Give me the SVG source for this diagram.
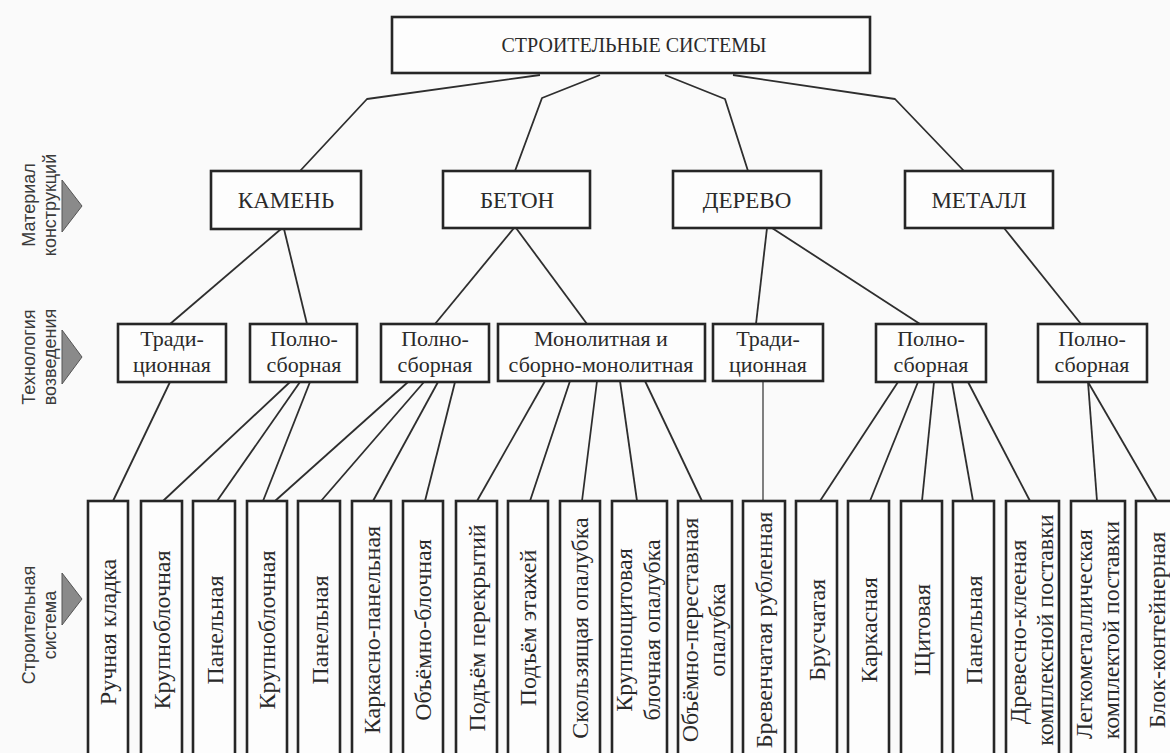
<svg xmlns="http://www.w3.org/2000/svg" width="1170" height="753" viewBox="0 0 1170 753">
<defs>
<style>
.bx{fill:#fdfdfd;stroke:#262626;stroke-width:2.6}
.t{font-family:"Liberation Serif","Times New Roman",serif;fill:#2a2a2a;text-anchor:middle}
.top{font-size:20px}
.l2{font-size:23px}
.l3{font-size:22px}
.b{font-size:24px}
.lab{font-family:"Liberation Sans",Arial,sans-serif;fill:#3a3a3a;text-anchor:middle;font-size:18px}
.tri{fill:#8a8a8a;stroke:#555;stroke-width:1}
.cn{fill:none;stroke:#2e2e2e;stroke-width:1.8;stroke-linejoin:round}
</style>
</defs>
<rect width="1170" height="753" fill="#fafafa"/>

<g id="labels">
<g id="lab-material">
<text class="lab" transform="translate(35,205) rotate(-90)">Материал</text>
<text class="lab" transform="translate(56,205) rotate(-90)">конструкций</text>
<polygon class="tri" points="62,180 82,206 62,232"/>
</g>
<g id="lab-tech">
<text class="lab" transform="translate(35,357) rotate(-90)">Технология</text>
<text class="lab" transform="translate(56,357) rotate(-90)">возведения</text>
<polygon class="tri" points="62,330 82,357 62,384"/>
</g>
<g id="lab-system">
<text class="lab" transform="translate(35,625) rotate(-90)">Строительная</text>
<text class="lab" transform="translate(56,625) rotate(-90)">система</text>
<polygon class="tri" points="62,573 82,599 62,625"/>
</g>
</g>

<g id="connectors">
<polyline class="cn" points="540,75 367,99 300,171"/>
<polyline class="cn" points="600,75 542,98 515,171"/>
<polyline class="cn" points="665,75 725,99 748,171"/>
<polyline class="cn" points="733,75 895,99 964,171"/>
<line class="cn" x1="281" y1="229" x2="170" y2="324"/>
<line class="cn" x1="284" y1="229" x2="307" y2="324"/>
<line class="cn" x1="514" y1="228" x2="435" y2="324"/>
<line class="cn" x1="516" y1="228" x2="587" y2="324"/>
<line class="cn" x1="767" y1="228" x2="756" y2="324"/>
<line class="cn" x1="772" y1="228" x2="920" y2="324"/>
<line class="cn" x1="1004" y1="228" x2="1081" y2="324"/>
<line class="cn" x1="170" y1="382" x2="113" y2="501"/>
<line class="cn" x1="290" y1="382" x2="163" y2="501"/>
<line class="cn" x1="300" y1="382" x2="217" y2="501"/>
<line class="cn" x1="310" y1="382" x2="263" y2="501"/>
<line class="cn" x1="408" y1="382" x2="275" y2="501"/>
<line class="cn" x1="424" y1="382" x2="321" y2="501"/>
<line class="cn" x1="438" y1="382" x2="373" y2="501"/>
<line class="cn" x1="455" y1="382" x2="425" y2="501"/>
<line class="cn" x1="545" y1="381" x2="477" y2="501"/>
<line class="cn" x1="570" y1="381" x2="530" y2="501"/>
<line class="cn" x1="597" y1="381" x2="582" y2="501"/>
<line class="cn" x1="620" y1="381" x2="637" y2="501"/>
<line class="cn" x1="645" y1="381" x2="702" y2="501"/>
<line class="cn" x1="763" y1="381" x2="763" y2="501" style="stroke-width:1.2"/>
<line class="cn" x1="898" y1="382" x2="820" y2="501"/>
<line class="cn" x1="918" y1="382" x2="870" y2="501"/>
<line class="cn" x1="934" y1="382" x2="922" y2="501"/>
<line class="cn" x1="952" y1="382" x2="973" y2="501"/>
<line class="cn" x1="968" y1="382" x2="1030" y2="501"/>
<line class="cn" x1="1088" y1="382" x2="1097" y2="501"/>
<line class="cn" x1="1088" y1="382" x2="1157" y2="501"/>
</g>

<g id="root"><rect class="bx" x="392" y="17" width="478" height="56"/><text class="t top" x="634" y="52">СТРОИТЕЛЬНЫЕ СИСТЕМЫ</text></g>

<g id="kamen"><rect class="bx" x="211" y="171" width="150" height="58"/><text class="t l2" x="286" y="208">КАМЕНЬ</text></g>
<g id="beton"><rect class="bx" x="443" y="171" width="147" height="57"/><text class="t l2" x="517" y="208">БЕТОН</text></g>
<g id="derevo"><rect class="bx" x="673" y="171" width="148" height="57"/><text class="t l2" x="747" y="208">ДЕРЕВО</text></g>
<g id="metall"><rect class="bx" x="905" y="171" width="148" height="57"/><text class="t l2" x="979" y="208">МЕТАЛЛ</text></g>

<g id="k-trad"><rect class="bx" x="118" y="324" width="108" height="58"/><text class="t l3" x="172" y="346">Тради-</text><text class="t l3" x="172" y="372">ционная</text></g>
<g id="k-poln"><rect class="bx" x="250" y="324" width="107" height="58"/><text class="t l3" x="304" y="346">Полно-</text><text class="t l3" x="304" y="372">сборная</text></g>
<g id="b-poln"><rect class="bx" x="381" y="324" width="108" height="58"/><text class="t l3" x="435" y="346">Полно-</text><text class="t l3" x="435" y="372">сборная</text></g>
<g id="b-mono"><rect class="bx" x="498" y="324" width="207" height="57"/><text class="t l3" x="601" y="346">Монолитная и</text><text class="t l3" x="601" y="372">сборно-монолитная</text></g>
<g id="d-trad"><rect class="bx" x="713" y="324" width="110" height="57"/><text class="t l3" x="768" y="346">Тради-</text><text class="t l3" x="768" y="372">ционная</text></g>
<g id="d-poln"><rect class="bx" x="876" y="324" width="110" height="58"/><text class="t l3" x="931" y="346">Полно-</text><text class="t l3" x="931" y="372">сборная</text></g>
<g id="m-poln"><rect class="bx" x="1038" y="324" width="109" height="58"/><text class="t l3" x="1092" y="346">Полно-</text><text class="t l3" x="1092" y="372">сборная</text></g>

<g id="s01"><rect class="bx" x="88" y="501" width="40" height="270"/><text class="t b" transform="translate(116,632) rotate(-90)">Ручная кладка</text></g>
<g id="s02"><rect class="bx" x="141" y="501" width="41" height="270"/><text class="t b" transform="translate(170,630) rotate(-90)">Крупноблочная</text></g>
<g id="s03"><rect class="bx" x="193" y="501" width="42" height="270"/><text class="t b" transform="translate(223,630) rotate(-90)">Панельная</text></g>
<g id="s04"><rect class="bx" x="247" y="501" width="40" height="270"/><text class="t b" transform="translate(275,630) rotate(-90)">Крупноблочная</text></g>
<g id="s05"><rect class="bx" x="298" y="501" width="42" height="270"/><text class="t b" transform="translate(328,630) rotate(-90)">Панельная</text></g>
<g id="s06"><rect class="bx" x="352" y="501" width="39" height="270"/><text class="t b" transform="translate(380,630) rotate(-90)">Каркасно-панельная</text></g>
<g id="s07"><rect class="bx" x="403" y="501" width="40" height="270"/><text class="t b" transform="translate(431,630) rotate(-90)">Объёмно-блочная</text></g>
<g id="s08"><rect class="bx" x="456" y="501" width="41" height="270"/><text class="t b" transform="translate(485,628) rotate(-90)">Подъём перекрытий</text></g>
<g id="s09"><rect class="bx" x="508" y="501" width="40" height="270"/><text class="t b" transform="translate(536,628) rotate(-90)">Подъём этажей</text></g>
<g id="s10"><rect class="bx" x="560" y="501" width="40" height="270"/><text class="t b" transform="translate(588,628) rotate(-90)">Скользящая опалубка</text></g>
<g id="s11"><rect class="bx" x="612" y="501" width="55" height="270"/><text class="t b" transform="translate(632,630) rotate(-90)">Крупнощитовая</text><text class="t b" transform="translate(660,630) rotate(-90)">блочная опалубка</text></g>
<g id="s12"><rect class="bx" x="678" y="501" width="54" height="270"/><text class="t b" transform="translate(698,630) rotate(-90)">Объёмно-переставная</text><text class="t b" transform="translate(725,630) rotate(-90)">опалубка</text></g>
<g id="s13"><rect class="bx" x="743" y="501" width="42" height="270"/><text class="t b" transform="translate(772,630) rotate(-90)">Бревенчатая рубленная</text></g>
<g id="s14"><rect class="bx" x="796" y="501" width="41" height="270"/><text class="t b" transform="translate(825,630) rotate(-90)">Брусчатая</text></g>
<g id="s15"><rect class="bx" x="848" y="501" width="41" height="270"/><text class="t b" transform="translate(877,630) rotate(-90)">Каркасная</text></g>
<g id="s16"><rect class="bx" x="901" y="501" width="41" height="270"/><text class="t b" transform="translate(930,630) rotate(-90)">Щитовая</text></g>
<g id="s17"><rect class="bx" x="953" y="501" width="41" height="270"/><text class="t b" transform="translate(982,630) rotate(-90)">Панельная</text></g>
<g id="s18"><rect class="bx" x="1006" y="501" width="53" height="270"/><text class="t b" transform="translate(1026,632) rotate(-90)">Древесно-клееная</text><text class="t b" transform="translate(1053,630) rotate(-90)">комплексной поставки</text></g>
<g id="s19"><rect class="bx" x="1071" y="501" width="54" height="270"/><text class="t b" transform="translate(1092,634) rotate(-90)">Легкометаллическая</text><text class="t b" transform="translate(1119,630) rotate(-90)">комплектой поставки</text></g>
<g id="s20"><rect class="bx" x="1136" y="501" width="42" height="270"/><text class="t b" transform="translate(1165,630) rotate(-90)">Блок-контейнерная</text></g>
</svg>
